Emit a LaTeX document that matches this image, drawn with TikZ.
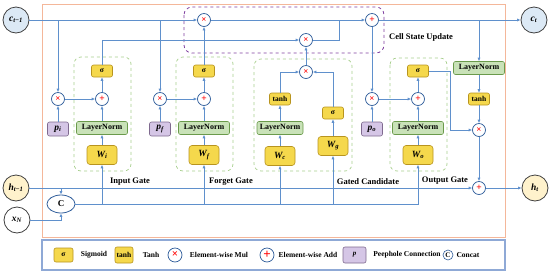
\documentclass[tikz,border=0pt]{standalone}
\usepackage{fontspec}
\setmainfont{Liberation Serif}
\usetikzlibrary{arrows.meta,shapes.geometric}
\definecolor{lblue}{HTML}{5F90CC}
\definecolor{opblue}{HTML}{2E5C9A}
\definecolor{ygold}{HTML}{B8941F}
\definecolor{yfill}{HTML}{F5D84C}
\definecolor{gborder}{HTML}{6A9A4B}
\definecolor{gfill}{HTML}{C9E2B8}
\definecolor{pborder}{HTML}{7F6A8F}
\definecolor{pfill}{HTML}{D5C6E6}
\definecolor{gdash}{HTML}{A8CF8E}
\definecolor{cellc}{HTML}{7F3FA0}
\definecolor{orangec}{HTML}{F4B79A}
\definecolor{legc}{HTML}{8FA9D6}
\definecolor{cfill}{HTML}{DCE9F5}
\definecolor{hfill}{HTML}{FFF2CC}
\definecolor{ringc}{HTML}{404040}
\newcommand{\bi}[1]{\textbf{\textit{#1}}}
\newcommand{\mysub}[1]{\textsubscript{#1}}
\newcommand{\mulsym}{\textcolor{red}{\fontsize{9}{9}\selectfont\textbf{×}}}
\newcommand{\addsym}{\textcolor{red}{\fontsize{9.5}{9}\selectfont\textbf{+}}}
\begin{document}
\begin{tikzpicture}[x=1pt,y=-1pt,
  conn/.style={draw=lblue, line width=0.75pt, -{Latex[length=3.5pt,width=3.2pt]}},
  plain/.style={draw=lblue, line width=0.75pt},
  op/.style={circle, draw=opblue, fill=white, line width=0.7pt, minimum size=13pt, inner sep=0pt},
  yb/.style={draw=ygold, fill=yfill, rounded corners=2pt, line width=0.6pt, inner sep=0pt, minimum width=21pt, minimum height=12pt, font=\bfseries\fontsize{7.5}{8}\selectfont},
  wb/.style={yb, minimum width=30pt, minimum height=19pt, rounded corners=3pt, font=\bfseries\itshape\fontsize{9.5}{10}\selectfont},
  lnb/.style={draw=gborder, fill=gfill, rounded corners=2pt, line width=0.6pt, minimum width=51pt, minimum height=13pt, inner sep=0pt, font=\bfseries\fontsize{8}{9}\selectfont},
  pb/.style={draw=pborder, fill=pfill, rounded corners=2pt, line width=0.6pt, minimum width=21pt, minimum height=14pt, inner sep=0pt, font=\bfseries\itshape\fontsize{9.5}{10}\selectfont},
  gate/.style={draw=gdash, dashed, rounded corners=7pt, line width=0.7pt},
  big/.style={circle, draw=ringc, line width=0.8pt, minimum size=26pt, inner sep=0pt, font=\bfseries\itshape\fontsize{9.5}{10}\selectfont},
  lab/.style={font=\bfseries\fontsize{8.5}{10}\selectfont},
  leg/.style={font=\bfseries\fontsize{7.5}{9}\selectfont}
]
\useasboundingbox (0,0) rectangle (550,274);
% frames
\draw[orangec, line width=0.9pt] (42,4) rectangle (505,237);
\draw[legc, line width=1.1pt] (42,240) rectangle (505,270);
\draw[cellc, dashed, line width=0.8pt, rounded corners=8pt] (184,7) rectangle (384,53);
\draw[gate] (74,57) rectangle (131,171);
\draw[gate] (176,57) rectangle (233,171);
\draw[gate] (254,59) rectangle (352,171);
\draw[gate] (390,58) rectangle (447,171);
\node[lab] (labI) at (130,182) {Input Gate};
\node[lab] (labF) at (231,182) {Forget Gate};
\node[lab] (labC) at (368,182) {Gated Candidate};
\node[lab] (labO) at (445,181) {Output Gate};
\node[lab] (labCell) at (421,37) {Cell State Update};
% outer nodes
\node[big, fill=cfill] (ctm1) at (16,20) {c\mysub{t−1}};
\node[big, fill=cfill] (ct) at (534,20) {c\mysub{t}};
\node[big, fill=hfill] (htm1) at (16,188) {h\mysub{t−1}};
\node[big, fill=white] (xN) at (17,220) {x\mysub{N}};
\node[big, fill=hfill] (ht) at (535,188) {h\mysub{t}};
\node[ellipse, draw=opblue, fill=white, line width=0.8pt, minimum width=28pt, minimum height=18pt, inner sep=0pt, font=\bfseries\fontsize{9}{10}\selectfont] (C) at (61,204) {C};
% cell state
\node[op] (m1) at (204,20) {\mulsym};
\node[op] (a1) at (372,20) {\addsym};
\node[op] (m2) at (306,40) {\mulsym};
\coordinate (j1) at (339,20);
% input gate
\node[op] (mi) at (58,99) {\mulsym};
\node[pb] (pi) at (58,129) {p\mysub{i}};
\node[yb] (sgi) at (102,71) {σ};
\node[op] (ai) at (102,99) {\addsym};
\node[lnb] (lni) at (102,128) {LayerNorm};
\node[wb] (Wi) at (102,155) {W\mysub{i}};
% forget gate
\node[op] (mf) at (160,99) {\mulsym};
\node[pb] (pf) at (160,129) {p\mysub{f}};
\node[yb] (sgf) at (204,71) {σ};
\node[op] (af) at (204,99) {\addsym};
\node[lnb] (lnf) at (204,128) {LayerNorm};
\node[wb] (Wf) at (204,155) {W\mysub{f}};
% gated candidate
\node[op] (mc) at (306,72) {\mulsym};
\node[yb] (tanhc) at (280,99) {tanh};
\node[lnb, minimum width=46pt] (lnc) at (280,128) {LayerNorm};
\node[wb] (Wc) at (280,156) {W\mysub{c}};
\node[yb] (sgg) at (333,113) {σ};
\node[wb] (Wg) at (333,146) {W\mysub{g}};
% output gate
\node[op] (mo) at (372,99) {\mulsym};
\node[pb] (po) at (372,129) {p\mysub{o}};
\node[yb] (sgo) at (418,71) {σ};
\node[op] (ao) at (418,99) {\addsym};
\node[lnb] (lno) at (418,128) {LayerNorm};
\node[wb] (Wo) at (418,155) {W\mysub{o}};
% right column
\node[lnb] (lnr) at (479,68) {LayerNorm};
\node[yb] (tanhr) at (479,99) {tanh};
\node[op] (mr) at (479,130) {\mulsym};
\node[op] (ar) at (479,188) {\addsym};
\coordinate (so1) at (450,71);
% connectors: cell state
\draw[conn] (ctm1) -- (m1);
\draw[conn] (mi |- ctm1) -- (mi);
\draw[conn] (mf |- ctm1) -- (mf);
\draw[conn] (m1) -- (a1);
\draw[plain] (m2) -| (j1);
\draw[conn] (mc) -- (m2);
\draw[conn] (a1) -- (ct);
\draw[conn] (lnr |- a1) -- (lnr);
\draw[conn] (a1) -- (mo);
% input gate
\draw[conn] (pi) -- (mi);
\draw[conn] (mi) -- (ai);
\draw[conn] (Wi) -- (lni);
\draw[conn] (lni) -- (ai);
\draw[conn] (ai) -- (sgi);
\draw[conn] (sgi) |- (m2);
% forget gate
\draw[conn] (pf) -- (mf);
\draw[conn] (mf) -- (af);
\draw[conn] (Wf) -- (lnf);
\draw[conn] (lnf) -- (af);
\draw[conn] (af) -- (sgf);
\draw[conn] (sgf) -- (m1);
% candidate
\draw[conn] (Wc) -- (lnc);
\draw[conn] (lnc) -- (tanhc);
\draw[conn] (tanhc) |- (mc);
\draw[conn] (Wg) -- (sgg);
\draw[conn] (sgg) |- (mc);
% output gate
\draw[conn] (po) -- (mo);
\draw[conn] (mo) -- (ao);
\draw[conn] (Wo) -- (lno);
\draw[conn] (lno) -- (ao);
\draw[conn] (ao) -- (sgo);
\draw[conn] (sgo.east) -- (so1) |- (mr);
% right column
\draw[conn] (lnr) -- (tanhr);
\draw[conn] (tanhr) -- (mr);
\draw[conn] (mr) -- (ar);
\draw[conn] (ar) -- (ht);
% inputs
\draw[conn] (htm1) -- (ar);
\draw[conn] (C |- htm1) -- (C);
\draw[conn] (xN) -| (C.south);
\draw[conn] (C.east) -| (Wo.south);
\draw[conn] (Wi |- C) -- (Wi);
\draw[conn] (Wf |- C) -- (Wf);
\draw[conn] (Wc |- C) -- (Wc);
\draw[conn] (Wg |- C) -- (Wg);
% legend
\node[yb, minimum width=19pt, minimum height=14pt] (lg1) at (63.5,255) {σ};
\node[leg] (lt1) at (94,255) {Sigmoid};
\node[yb, minimum width=18pt, minimum height=16pt] (lg2) at (124,255) {tanh};
\node[leg] (lt2) at (151,255) {Tanh};
\node[op, minimum size=14pt] (lg3) at (175,255) {\textcolor{red}{\fontsize{11}{11}\selectfont\textbf{×}}};
\node[leg] (lt3) at (219,255) {Element-wise Mul};
\node[op, minimum size=14pt] (lg4) at (267,255) {\textcolor{red}{\fontsize{13}{13}\selectfont\textbf{+}}};
\node[leg] (lt4) at (308,255) {Element-wise Add};
\node[pb, minimum width=23pt, minimum height=16pt, font=\bfseries\itshape\fontsize{7}{8}\selectfont] (lg5) at (354.5,255) {p};
\node[leg] (lt5) at (407,255) {Peephole Connection};
\node[circle, draw=opblue, fill=white, line width=0.6pt, minimum size=10pt, inner sep=0pt, font=\bfseries\fontsize{7}{8}\selectfont] (lg6) at (448,255) {C};
\node[leg] (lt6) at (468,255) {Concat};
\end{tikzpicture}
\end{document}
